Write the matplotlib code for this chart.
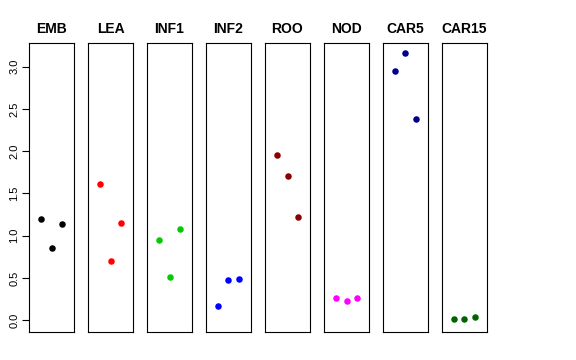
import matplotlib.pyplot as plt

plt.rcParams['font.family'] = ['Liberation Sans', 'DejaVu Sans']

# tissue groups, three replicates each
groups = ["EMB", "LEA", "INF1", "INF2", "ROO", "NOD", "CAR5", "CAR15"]
values = [
    [1.20, 0.85, 1.14],
    [1.61, 0.70, 1.15],
    [0.95, 0.51, 1.08],
    [0.17, 0.48, 0.49],
    [1.96, 1.71, 1.22],
    [0.26, 0.23, 0.26],
    [2.95, 3.16, 2.38],
    [0.01, 0.01, 0.04],
]
colors = ["black", "red", "#00CD00", "blue", "darkred", "magenta", "darkblue", "darkgreen"]
yticks = [0.0, 0.5, 1.0, 1.5, 2.0, 2.5, 3.0]

fig = plt.figure(figsize=(5.76, 3.6), dpi=100)

left0 = 29 / 576
step = 59 / 576
w = 45 / 576
bottom = 1 - 332 / 360
h = (332 - 43) / 360

for i, (g, v, c) in enumerate(zip(groups, values, colors)):
    ax = fig.add_axes([left0 + i * step, bottom, w, h])
    ax.scatter([1, 2, 3], v, s=22, color=c, zorder=3, linewidths=0)
    ax.set_xlim(-0.14, 4.14)
    ax.set_ylim(-0.14, 3.28)
    ax.set_xticks([])
    ax.set_title(g, fontsize=10, fontweight='bold', pad=7)
    for sp in ax.spines.values():
        sp.set_linewidth(0.8)
    if i == 0:
        ax.set_yticks(yticks)
        ax.set_yticklabels([f"{t:.1f}" for t in yticks], rotation=90, va='center', fontsize=8)
        ax.tick_params(axis='y', length=5, width=0.8, pad=2)
    else:
        ax.set_yticks([])

fig.savefig("out.png", dpi=100)
